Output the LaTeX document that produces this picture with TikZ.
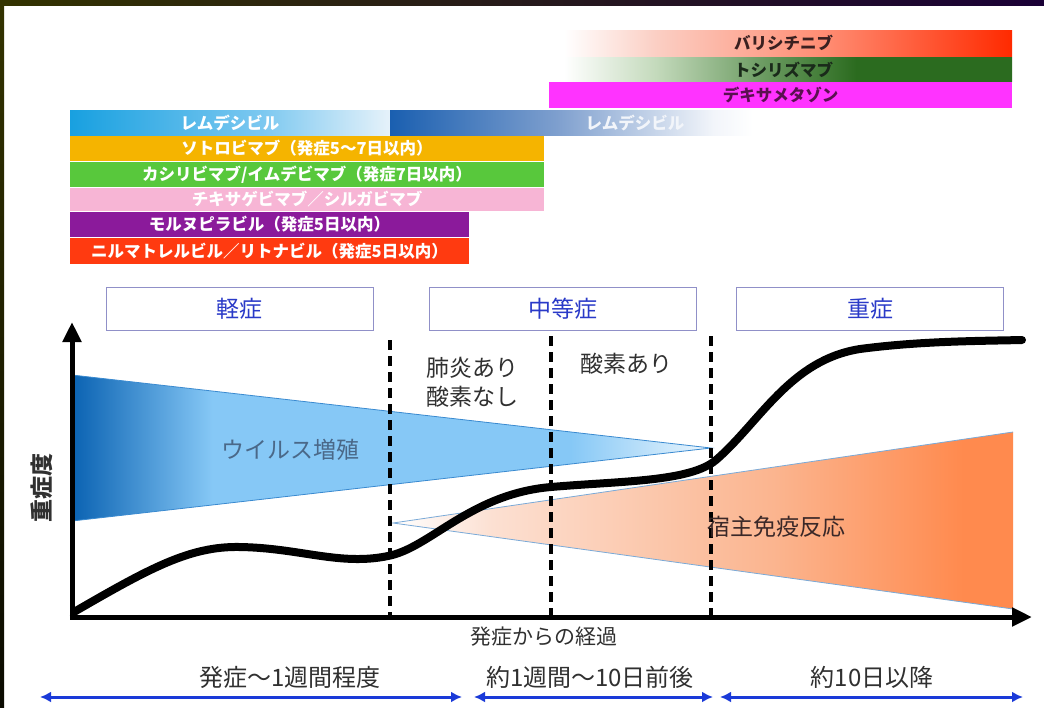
\documentclass[tikz,border=0pt]{standalone}
\usepackage{fontspec}
\setmainfont{Noto Sans CJK JP}
\usetikzlibrary{arrows.meta}

\definecolor{frameA}{HTML}{333300}
\definecolor{frameB}{HTML}{1A0036}
\definecolor{frameC}{HTML}{0A0A00}
\definecolor{bariA}{HTML}{FBCFC4}
\definecolor{bariB}{HTML}{FF8A70}
\definecolor{bariC}{HTML}{FF2A00}
\definecolor{tociA}{HTML}{C4DABC}
\definecolor{tociB}{HTML}{6A9A60}
\definecolor{tociC}{HTML}{2B6B1F}
\definecolor{dexa}{HTML}{FF33FF}
\definecolor{remA}{HTML}{18A0E0}
\definecolor{remB}{HTML}{7CC8F0}
\definecolor{remC}{HTML}{E6F2FA}
\definecolor{remD}{HTML}{1A5FB0}
\definecolor{remE}{HTML}{7E9FCE}
\definecolor{remF}{HTML}{F2F5FA}
\definecolor{soto}{HTML}{F5B400}
\definecolor{casi}{HTML}{58C83C}
\definecolor{tixa}{HTML}{F7B5D5}
\definecolor{molnu}{HTML}{8B1A9B}
\definecolor{nirma}{HTML}{FF3A10}
\definecolor{boxline}{HTML}{9090C8}
\definecolor{boxtext}{HTML}{2A3AC8}
\definecolor{virA}{HTML}{0A62B2}
\definecolor{virB}{HTML}{86C8F6}
\definecolor{virC}{HTML}{ECF6FD}
\definecolor{viredge}{HTML}{3A8AD0}
\definecolor{virtext}{HTML}{4A6888}
\definecolor{immA}{HTML}{FCE0D2}
\definecolor{immB}{HTML}{FBB48E}
\definecolor{immC}{HTML}{FF8A4E}
\definecolor{immedge}{HTML}{7AAAD8}
\definecolor{immtext}{HTML}{3A2828}
\definecolor{darktext}{HTML}{303030}
\definecolor{arrblue}{HTML}{1A3AD8}
\definecolor{baritext}{HTML}{3A2020}
\definecolor{tocitext}{HTML}{1A2A1A}
\definecolor{dexatext}{HTML}{5A1050}

\pgfdeclarehorizontalshading{frameshade}{100bp}{color(0bp)=(frameA); color(25bp)=(frameA); color(75bp)=(frameB); color(100bp)=(frameB)}
\pgfdeclarehorizontalshading{bari}{100bp}{color(0bp)=(white); color(26bp)=(white); color(36bp)=(bariA); color(55bp)=(bariB); color(75bp)=(bariC); color(100bp)=(bariC)}
\pgfdeclarehorizontalshading{toci}{100bp}{color(0bp)=(white); color(26bp)=(white); color(36bp)=(tociA); color(48bp)=(tociB); color(58bp)=(tociC); color(100bp)=(tociC)}
\pgfdeclarehorizontalshading{remL}{100bp}{color(0bp)=(remA); color(25bp)=(remA); color(55bp)=(remB); color(75bp)=(remC); color(100bp)=(remC)}
\pgfdeclarehorizontalshading{remR}{100bp}{color(0bp)=(remD); color(25bp)=(remD); color(42bp)=(remE); color(58bp)=(remF); color(62bp)=(white); color(100bp)=(white)}
\pgfdeclarehorizontalshading{virus}{100bp}{color(0bp)=(virA); color(25bp)=(virA); color(36bp)=(virB); color(64bp)=(virB); color(75bp)=(virC); color(100bp)=(virC)}
\pgfdeclarehorizontalshading{immune}{100bp}{color(0bp)=(white); color(25bp)=(white); color(33bp)=(immA); color(56bp)=(immB); color(71bp)=(immC); color(100bp)=(immC)}

\tikzset{
  bar/.style={inner sep=0pt, font=\fontsize{16.5}{16.5}\selectfont\bfseries, text=white},
  topbar/.style={inner sep=0pt, font=\fontsize{16.5}{16.5}\selectfont\bfseries},
  phasebox/.style={draw=boxline, line width=1pt, fill=white, minimum width=267, minimum height=43, inner sep=0pt, text=boxtext, font=\fontsize{23}{23}\selectfont},
  dashline/.style={line width=3.2pt, dash pattern=on 10pt off 6pt},
  axis/.style={line width=5pt, -{Triangle[width=18pt,length=20pt]}},
  sevcurve/.style={line width=8pt, line cap=round},
  barrow/.style={arrblue, line width=3pt, {Latex[length=11pt,width=11pt]}-{Latex[length=11pt,width=11pt]}},
  lbl/.style={inner sep=0pt, font=\fontsize{23}{23}\selectfont, text=darktext},
  btm/.style={inner sep=0pt, font=\fontsize{24}{24}\selectfont, text=darktext},
}

\begin{document}
\begin{tikzpicture}[x=1pt,y=-1pt]
\useasboundingbox (0,0) rectangle (1044,707);
\fill[white] (0,0) rectangle (1044,707);
% dark frame
\shade[shading=frameshade] (0,0) rectangle (1044,5);
\shade[top color=frameA, bottom color=frameC] (0,0) rectangle (4,707);

% drug bars
\node[topbar, shade, shading=bari, minimum width=457, minimum height=26, text=baritext] (bari) at (783.5,43) {バリシチニブ};
\node[topbar, shade, shading=toci, minimum width=457, minimum height=24, text=tocitext] (toci) at (783.5,69.5) {トシリズマブ};
\node[topbar, fill=dexa, minimum width=463, minimum height=26, text=dexatext] (dexa) at (780.5,95) {デキサメタゾン};
\node[bar, shade, shading=remL, minimum width=320, minimum height=25] (reml) at (230,122.5) {レムデシビル};
\node[bar, shade, shading=remR, minimum width=490, minimum height=25, text=remF] (remr) at (635,122.5) {レムデシビル};
\node[bar, fill=soto, minimum width=474, minimum height=25] (soto) at (307,148.5) {ソトロビマブ（発症5～7日以内）};
\node[bar, fill=casi, minimum width=474, minimum height=25] (casi) at (307,174.5) {カシリビマブ/イムデビマブ（発症7日以内）};
\node[bar, fill=tixa, minimum width=474, minimum height=23] (tixa) at (307,199.5) {チキサゲビマブ／シルガビマブ};
\node[bar, fill=molnu, minimum width=399, minimum height=25] (molnu) at (269.5,224.5) {モルヌピラビル（発症5日以内）};
\node[bar, fill=nirma, minimum width=399, minimum height=26] (nirma) at (269.5,251) {ニルマトレルビル／リトナビル（発症5日以内）};

% phase boxes
\node[phasebox] (mild) at (239.5,308.5) {軽症};
\node[phasebox] (moderate) at (562.5,308.5) {中等症};
\node[phasebox] (severe) at (870,308.5) {重症};

% virus replication wedge
\shade[shading=virus] (72,375) -- (711,448) -- (72,521) -- cycle;
\draw[viredge, line width=0.8pt] (72,375) -- (711,448) -- (72,521);
% host immune wedge
\shade[shading=immune] (393,523) -- (1013,432) -- (1013,609) -- cycle;
\draw[immedge, line width=0.8pt] (1013,432) -- (393,523) -- (1013,609);

% dashed dividers
\coordinate (d1t) at (390,340); \coordinate (d1b) at (390,617);
\coordinate (d2t) at (551,336); \coordinate (d2b) at (551,617);
\coordinate (d3t) at (711,336); \coordinate (d3b) at (711,617);
\draw[dashline] (d1t) -- (d1b);
\draw[dashline] (d2t) -- (d2b);
\draw[dashline] (d3t) -- (d3b);

% severity curve
\draw[sevcurve] (74,612) .. controls (150,568) and (190,546) .. (240,547)
  .. controls (300,548) and (340,566) .. (388,556)
  .. controls (430,548) and (470,494) .. (551,487)
  .. controls (620,481) and (690,482) .. (716,460)
  .. controls (760,422) and (790,360) .. (860,349)
  .. controls (920,341) and (980,341) .. (1022,340);

% axes
\coordinate (O) at (72,617);
\coordinate (ytip) at (72,322);
\coordinate (xtip) at (1032,617);
\draw[axis] (69.5,617) -- (xtip);
\draw[axis] (72,619.5) -- (ytip);

% labels
\node[lbl, text=virtext] (virlbl) at (290,450) {ウイルス増殖};
\node[lbl, text=immtext] (immlbl) at (776,527) {宿主免疫反応};
\node[lbl, anchor=west] (pn1) at (426,368) {肺炎あり};
\node[lbl, anchor=west] (pn2) at (426,397) {酸素なし};
\node[lbl, anchor=west] (ox) at (580,364) {酸素あり};
\node[lbl, rotate=90, font=\fontsize{23}{23}\selectfont\bfseries] (ylbl) at (42,488) {重症度};
\node[inner sep=0pt, font=\fontsize{21}{21}\selectfont, text=darktext] (xlbl) at (544,637) {発症からの経過};

% bottom periods
\node[btm] (p1) at (290,677) {発症～1週間程度};
\node[btm] (p2) at (590,677) {約1週間～10日前後};
\node[btm] (p3) at (872,677) {約10日以降};
\coordinate (a1l) at (40,697); \coordinate (a1r) at (462,697);
\coordinate (a2l) at (474,697); \coordinate (a2r) at (713,697);
\coordinate (a3l) at (720,697); \coordinate (a3r) at (1023,697);
\draw[barrow] (a1l) -- (a1r);
\draw[barrow] (a2l) -- (a2r);
\draw[barrow] (a3l) -- (a3r);
\end{tikzpicture}
\end{document}
